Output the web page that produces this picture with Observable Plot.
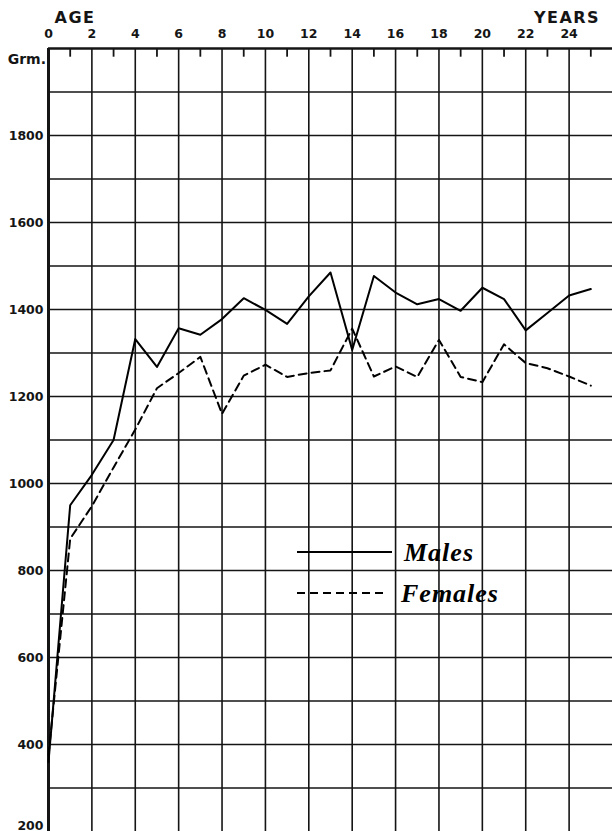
<!DOCTYPE html>
<html><head><meta charset="utf-8">
<script src="https://cdn.jsdelivr.net/npm/d3@7"></script>
<script src="https://cdn.jsdelivr.net/npm/@observablehq/plot@0.6"></script>
<style>html,body{margin:0;padding:0;background:#fff;overflow:hidden}</style>
</head><body><div id="chart"></div>
<script>
const ages = [0,1,2,3,4,5,6,7,8,9,10,11,12,13,14,15,16,17,18,19,20,21,22,23,24,25];
const males = [360,950,1020,1100,1332,1268,1357,1342,1378,1426,1399,1367,1430,1485,1307,1477,1439,1412,1424,1397,1450,1424,1352,1392,1432,1447];
const females = [375,873,948,1037,1124,1219,1254,1291,1160,1248,1273,1245,1254,1260,1356,1246,1269,1245,1330,1245,1233,1320,1277,1265,1246,1225];
const xTickLabels = [0,2,4,6,8,10,12,14,16,18,20,22,24];
const xGrid = [2,4,6,8,10,12,14,16,18,20,22,24];
const minorTicks = [1,3,5,7,9,11,13,15,17,19,21,23,25];
const yTickLabels = [400,600,800,1000,1200,1400,1600,1800];
const yBottomLabel = [200];
const yGrid = [300,400,500,600,700,800,900,1000,1100,1200,1300,1400,1500,1600,1700,1800,1900];
const seriesNames = ["Males","Females"];

const rows = ages.map((a,i)=>({age:a, males:males[i], females:females[i]}));
const ink = "#151515";
const fmt = d => String(d);

const plot = Plot.plot({
  width: 612, height: 831,
  marginTop: 48, marginLeft: 48, marginRight: 0, marginBottom: 0,
  style: {fontFamily: "'DejaVu Sans', sans-serif", fontSize: "13px", fontWeight: "bold", color: ink, background: "#fff", overflow: "visible"},
  x: {domain: [0, 26]},
  y: {domain: [200, 2000]},
  marks: [
    Plot.ruleY(yGrid, {stroke: ink, strokeWidth: 1.6}),
    Plot.ruleX(xGrid, {y1: 200, y2: 2000, stroke: ink, strokeWidth: 1.6}),
    Plot.ruleX(minorTicks, {y1: 2000, y2: 1980, stroke: ink, strokeWidth: 1.8}),
    Plot.ruleX([0], {y1: 200, y2: 2000, stroke: ink, strokeWidth: 3}),
    Plot.ruleY([2000], {x1: 0, x2: 26, stroke: ink, strokeWidth: 2.6}),
    Plot.axisX(xTickLabels, {anchor: "top", tickSize: 0, tickPadding: 11, fontSize: 12.5, tickFormat: fmt, label: null}),
    Plot.axisY(yTickLabels, {anchor: "left", tickSize: 0, tickPadding: 5, fontSize: 12.5, tickFormat: fmt, label: null}),
    Plot.axisY(yBottomLabel, {anchor: "left", tickSize: 0, tickPadding: 5, fontSize: 12.5, tickFormat: fmt, label: null, dy: -6}),
    Plot.line(rows, {x: "age", y: "males", stroke: "#000", strokeWidth: 2}),
    Plot.line(rows, {x: "age", y: "females", stroke: "#000", strokeWidth: 2, strokeDasharray: "8,5"})
  ]
});
document.getElementById("chart").append(plot);

const svg = d3.select(plot);
const g = svg.append("g").attr("fill", ink).attr("font-family", "'DejaVu Sans', sans-serif").attr("font-weight", "bold");
g.append("text").attr("x", 75).attr("y", 23).attr("text-anchor", "middle").attr("font-size", 16).attr("letter-spacing", 1.5).text("AGE");
g.append("text").attr("x", 567).attr("y", 23).attr("text-anchor", "middle").attr("font-size", 16).attr("letter-spacing", 1.5).text("YEARS");
g.append("text").attr("x", 46).attr("y", 64).attr("text-anchor", "end").attr("font-size", 14).text("Grm.");

const leg = svg.append("g");
const items = [
  {name: seriesNames[0], y: 552, dash: null, tx: 404},
  {name: seriesNames[1], y: 593, dash: "8,5", tx: 401}
];
items.forEach(it => {
  leg.append("line").attr("x1", 297).attr("x2", it.dash ? 388 : 392).attr("y1", it.y).attr("y2", it.y)
    .attr("stroke", "#000").attr("stroke-width", 2).attr("stroke-dasharray", it.dash);
  leg.append("text").attr("x", it.tx).attr("y", it.y + 9).attr("text-anchor", "start")
    .attr("font-family", "'Liberation Serif', 'DejaVu Serif', serif").attr("font-style", "italic").attr("font-weight", "bold")
    .attr("font-size", 26).attr("letter-spacing", 1).attr("fill", "#000").text(it.name);
});
</script></body></html>
